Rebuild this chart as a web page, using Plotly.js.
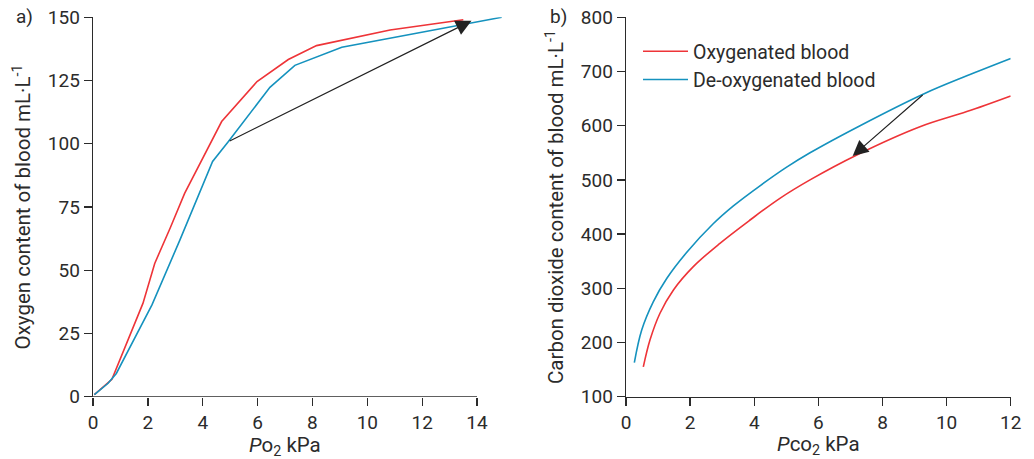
<!DOCTYPE html>
<html>
<head>
<meta charset="utf-8">
<script src="https://cdn.plot.ly/plotly-3.0.1.min.js"></script>
<style>html,body{margin:0;padding:0;background:#fff;}#chart{width:1034px;height:459px;}</style>
</head>
<body>
<div id="chart"></div>
<script>
// Panel a) oxygen content vs PO2
const o2OxyX = [0.05, 0.69, 1.82, 2.25, 2.81, 3.34, 4.69, 5.98, 7.12, 8.15, 10.83, 13.5];
const o2OxyY = [0.8, 6.9, 36.9, 52.7, 66.6, 80.4, 108.8, 124.6, 133.3, 138.8, 145, 149];
const o2DeoxyX = [0.05, 0.55, 0.85, 2.15, 3.17, 4.36, 4.93, 6.45, 7.36, 9.07, 14.9];
const o2DeoxyY = [0.8, 5.3, 9.2, 36.3, 62, 93, 100.8, 122.3, 131, 138.2, 150];
const o2ArrowFrom = [4.93, 100.8];
const o2ArrowTo = [13.8, 148.6];

// Panel b) carbon dioxide content vs PCO2
const co2OxyX = [0.54, 0.75, 1.06, 1.48, 2.10, 2.93, 3.87, 4.80, 5.74, 7.20, 9.17, 10.63, 12.0];
const co2OxyY = [155, 205, 254, 297, 340, 383, 426, 466, 500, 546, 598, 626, 655];
const co2DeoxyX = [0.26, 0.49, 0.85, 1.27, 1.89, 2.72, 3.35, 4.2, 5.0, 5.74, 7.30, 9.30, 10.63, 12.0];
const co2DeoxyY = [163, 223, 275, 318, 366, 419, 452, 490, 523, 550, 600, 659, 692, 724];
const co2ArrowFrom = [9.30, 659];
const co2ArrowTo = [7.07, 544];

const seriesNames = ['Oxygenated blood', 'De-oxygenated blood'];
const panelLabels = ['a)', 'b)'];
const axisTitles = {
  o2x: '<i>P</i>o<sub>2</sub> kPa',
  o2y: 'Oxygen content of blood mL·L<sup>-1</sup>',
  co2x: '<i>P</i>co<sub>2</sub> kPa',
  co2y: 'Carbon dioxide content of blood mL·L<sup>-1</sup>'
};

const RED = '#ee3438';
const BLUE = '#1592be';
const INK = '#2b2b2b';
const FONT = 'Roboto, "DejaVu Sans", sans-serif';

const W = 1034, H = 459;
const px = v => v / W;
const py = v => 1 - v / H;

const traces = [
  {x: o2OxyX, y: o2OxyY, xaxis: 'x', yaxis: 'y', mode: 'lines', line: {color: RED, width: 1.6}, name: seriesNames[0], showlegend: false},
  {x: o2DeoxyX, y: o2DeoxyY, xaxis: 'x', yaxis: 'y', mode: 'lines', line: {color: BLUE, width: 1.6}, name: seriesNames[1], showlegend: false},
  {x: co2OxyX, y: co2OxyY, xaxis: 'x2', yaxis: 'y2', mode: 'lines', line: {color: RED, width: 1.6, shape: 'spline', smoothing: 1.0}, name: seriesNames[0]},
  {x: co2DeoxyX, y: co2DeoxyY, xaxis: 'x2', yaxis: 'y2', mode: 'lines', line: {color: BLUE, width: 1.6, shape: 'spline', smoothing: 1.0}, name: seriesNames[1]}
];

const tickFont = {family: FONT, size: 19, color: INK};
const titleFont = {family: FONT, size: 20.5, color: INK};
const axCommon = {
  ticks: 'outside', ticklen: 8, tickwidth: 1.3, tickcolor: INK,
  showgrid: false, zeroline: false, tickfont: tickFont,
  linecolor: INK, linewidth: 1.3, automargin: false, fixedrange: true
};

const layout = {
  width: W, height: H,
  margin: {l: 0, r: 0, t: 0, b: 0},
  paper_bgcolor: '#fff', plot_bgcolor: 'rgba(0,0,0,0)',
  font: {family: FONT, color: INK},
  xaxis: Object.assign({}, axCommon, {
    domain: [px(93), px(93 + 15 * 27.43)], range: [0, 15], dtick: 2, tick0: 0,
    showline: false, anchor: 'y'
  }),
  yaxis: Object.assign({}, axCommon, {
    domain: [py(396.7), py(17.3)], range: [0, 150], dtick: 25, tick0: 0,
    showline: true, anchor: 'x',
    title: {text: axisTitles.o2y, font: titleFont, standoff: 11}
  }),
  xaxis2: Object.assign({}, axCommon, {
    domain: [px(626), px(1010.7)], range: [0, 12], dtick: 2, tick0: 0,
    showline: true, anchor: 'y2',
    title: {text: axisTitles.co2x, font: titleFont, standoff: 5}
  }),
  yaxis2: Object.assign({}, axCommon, {
    domain: [py(396.7), py(17.3)], range: [100, 800], dtick: 100, tick0: 0,
    showline: true, anchor: 'x2',
    title: {text: axisTitles.co2y, font: titleFont, standoff: 11}
  }),
  showlegend: true,
  legend: {
    x: px(638), y: py(32), xanchor: 'left', yanchor: 'top',
    font: {family: FONT, size: 19.5, color: INK},
    itemwidth: 45,
    bgcolor: 'rgba(0,0,0,0)', borderwidth: 0, tracegroupgap: 0
  },
  shapes: [
    {type: 'line', xref: 'x', yref: 'y', x0: 0, x1: 14, y0: 0, y1: 0, line: {color: INK, width: 1.3}}
  ],
  annotations: [
    {xref: 'x', yref: 'y', axref: 'x', ayref: 'y', x: o2ArrowTo[0], y: o2ArrowTo[1], ax: o2ArrowFrom[0], ay: o2ArrowFrom[1],
     text: '', showarrow: true, arrowhead: 2, arrowsize: 2.6, arrowwidth: 1.2, arrowcolor: '#222'},
    {xref: 'x2', yref: 'y2', axref: 'x2', ayref: 'y2', x: co2ArrowTo[0], y: co2ArrowTo[1], ax: co2ArrowFrom[0], ay: co2ArrowFrom[1],
     text: '', showarrow: true, arrowhead: 2, arrowsize: 2.6, arrowwidth: 1.2, arrowcolor: '#222'},
    {xref: 'x', yref: 'paper', x: 7, y: py(446), xanchor: 'center', yanchor: 'middle', text: axisTitles.o2x, showarrow: false, font: titleFont},
    {xref: 'paper', yref: 'paper', x: px(14), y: py(17), xanchor: 'left', yanchor: 'middle', text: panelLabels[0], showarrow: false, font: {family: FONT, size: 19, color: INK}},
    {xref: 'paper', yref: 'paper', x: px(548), y: py(17), xanchor: 'left', yanchor: 'middle', text: panelLabels[1], showarrow: false, font: {family: FONT, size: 19, color: INK}}
  ]
};

Plotly.newPlot('chart', traces, layout, {displayModeBar: false, staticPlot: true});
</script>
</body>
</html>
